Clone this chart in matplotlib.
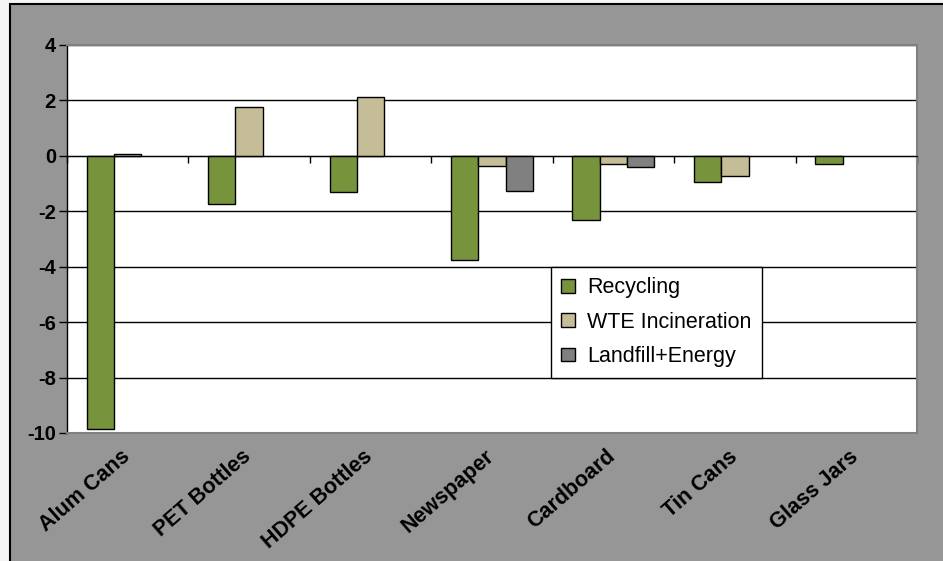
import numpy as np
import matplotlib.pyplot as plt
from matplotlib.patches import Rectangle
from matplotlib.transforms import offset_copy

plt.rcParams['font.family'] = ['Liberation Sans', 'DejaVu Sans']

categories = ['Alum Cans', 'PET Bottles', 'HDPE Bottles', 'Newspaper',
              'Cardboard', 'Tin Cans', 'Glass Jars']
recycling = [-9.85, -1.73, -1.32, -3.75, -2.33, -0.96, -0.31]
wte = [0.05, 1.77, 2.12, -0.35, -0.30, -0.72, 0.0]
landfill = [0.0, 0.0, 0.0, -1.26, -0.42, 0.0, 0.0]
series_names = ['Recycling', 'WTE Incineration', 'Landfill+Energy']
colors = ['#77933C', '#C4BD97', '#808080']
yticks = [-10, -8, -6, -4, -2, 0, 2, 4]

W, H = 943, 561
fig = plt.figure(figsize=(W / 100, H / 100), dpi=100, facecolor='#f4f4f4')

# gray chart area with black frame
fig.add_artist(Rectangle((9.5 / W, -0.05), 1.1, (H - 4) / H + 0.05,
                         transform=fig.transFigure, facecolor='#969696',
                         edgecolor='black', linewidth=1.5, zorder=-10))

ax = fig.add_axes([67 / W, (H - 433) / H, 850 / W, 388 / H])
ax.set_facecolor('white')

x = np.arange(len(categories))
bw = 0.225
for k, (vals, name, c) in enumerate(zip([recycling, wte, landfill], series_names, colors)):
    vals = np.array(vals)
    mask = vals != 0
    ax.bar(x[mask] + (k - 1) * bw, vals[mask], width=bw, color=c,
           edgecolor='black', linewidth=1, label=name, zorder=3)

ax.set_xlim(-0.5, len(categories) - 0.5)
ax.set_ylim(-10, 4)
ax.set_yticks(yticks)
ax.set_yticklabels([str(t) for t in yticks], fontsize=14.5, fontweight='bold')
for t in yticks[1:]:
    ax.axhline(t, color='black', linewidth=1, zorder=1)

# category axis crossing at zero
ax.spines['bottom'].set_position(('data', 0))
ax.spines['bottom'].set_color('black')
ax.spines['bottom'].set_zorder(4)
ax.set_xticks(np.arange(len(categories) + 1) - 0.5)
ax.set_xticklabels([])
ax.tick_params(axis='x', direction='out', length=5, width=1, color='black')
ax.tick_params(axis='y', direction='out', length=6, width=1, color='black', pad=2)
for s in ['top', 'right']:
    ax.spines[s].set_color('#808080')
    ax.spines[s].set_linewidth(1.5)
ax.spines['left'].set_color('black')
ax.spines['left'].set_linewidth(1)
ax.plot([0, 1], [0, 0], transform=ax.transAxes, color='#808080',
        linewidth=1.5, clip_on=False, zorder=5)

lab_tr = offset_copy(ax.get_xaxis_transform(), fig=fig, x=0, y=-13, units='dots')
for i, cat in enumerate(categories):
    ax.text(i - 0.06, 0, cat, transform=lab_tr,
            rotation=41, ha='right', va='top', rotation_mode='anchor',
            fontsize=15.5, fontweight='bold')

leg = ax.legend(loc='lower left', bbox_to_anchor=(0.569, 0.142), borderaxespad=0,
                fancybox=False, edgecolor='black', framealpha=1, fontsize=15.5,
                handlelength=0.65, handleheight=0.6, handletextpad=0.55,
                labelspacing=0.62, borderpad=0.5)
leg.get_frame().set_linewidth(1)
leg.set_zorder(6)

fig.savefig('out.png', dpi=100, facecolor=fig.get_facecolor())
